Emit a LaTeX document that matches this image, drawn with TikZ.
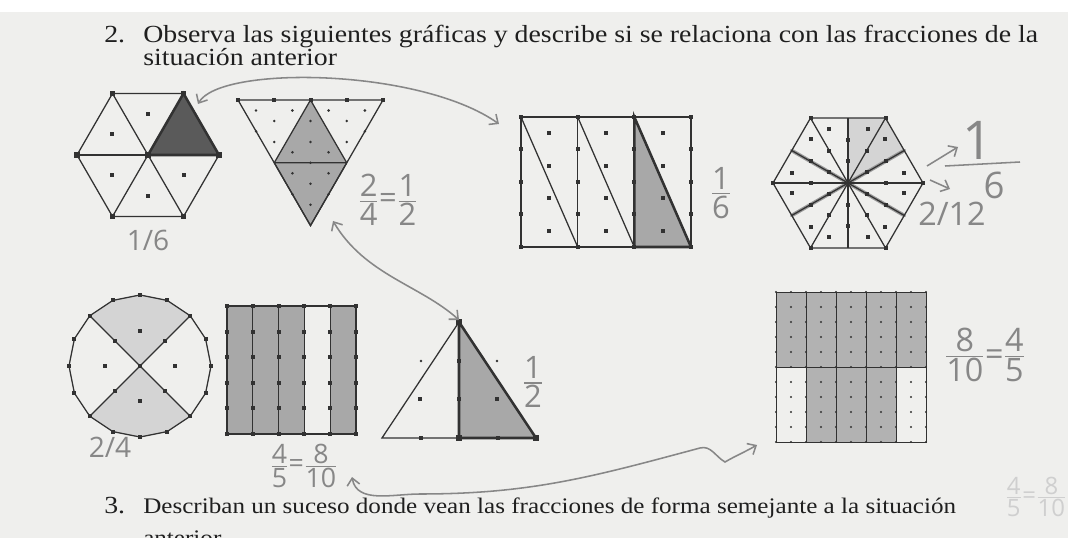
\documentclass[tikz,border=0pt]{standalone}
\usepackage{amsmath}
\usepackage{fontspec}
\setmainfont{Liberation Serif}
\newfontfamily\prfont[FakeStretch=1.13]{Liberation Serif}
\newfontfamily\hand{Open Sans}
\usetikzlibrary{arrows.meta,calc}
\definecolor{pPaper}{RGB}{239,239,237}
\definecolor{pInk}{RGB}{50,50,50}
\definecolor{pPencil}{RGB}{135,135,135}
\definecolor{pDark}{RGB}{90,90,90}
\definecolor{pMid}{RGB}{168,168,168}
\definecolor{pGrid}{RGB}{178,178,178}
\definecolor{pLight}{RGB}{212,212,212}
\newcommand{\mkSq}[1]{\fill[pInk] #1 ++(-2.8,-2.8) rectangle ++(5.6,5.6);}
\newcommand{\mkSm}[1]{\fill[pInk] #1 ++(-2,-2) rectangle ++(4,4);}
\newcommand{\mkDot}[1]{\fill[pInk] #1 circle (1pt);}
\newcommand{\hfr}[2]{\ensuremath{\genfrac{}{}{0.9pt}{1}{\mbox{#1}}{\mbox{#2}}}}

\begin{document}
\begin{tikzpicture}[
	x=0.025cm,y=-0.025cm,
	ln/.style={draw=pInk,line width=0.9pt},
	thk/.style={draw=pInk,line width=1.8pt},
	penln/.style={draw=pPencil,line width=1.1pt},
	penfat/.style={draw=pPencil!85,line width=2.6pt,line cap=round},
	penar/.style={penln,{Straight Barb[length=5pt,width=9pt]}-{Straight Barb[length=5pt,width=9pt]}},
	hw/.style={text=pPencil,inner sep=0pt,font=\hand\fontsize{20}{22}\selectfont},
	prnt/.style={text=black!88,inner sep=0pt,anchor=base west,font=\prfont\fontsize{17.5}{19}\selectfont}
	]
	\useasboundingbox (0,0) rectangle (1068,538);
	\fill[pPaper] (0,0) rectangle (1068,538);
	\fill[white] (0,0) rectangle (1068,12);

	% question 2
	\node[prnt] (q2n) at (104,43) {2.};
	\node[prnt] (q2a) at (143,43) {Observa las siguientes gráficas y describe si se relaciona con las fracciones de la};
	\node[prnt] (q2b) at (143,66) {situación anterior};

	% hexagon in sixths
	\coordinate (hA) at (148,155);
	\foreach \a in {0,60,...,300}{
		\coordinate (hA\a) at ($(hA)+(\a:71)$);
	}
	\fill[pDark] (hA)--(hA0)--(hA300)--cycle;
	\draw[ln] (hA0)--(hA60)--(hA120)--(hA180)--(hA240)--(hA300)--cycle;
	\foreach \a in {0,60,...,300} \draw[ln] (hA)--(hA\a);
	\draw[thk] (hA)--(hA0)--(hA300)--cycle;
	\foreach \a in {0,60,...,300} {\mkSq{(hA\a)}}
	\foreach \a in {30,90,150,210,270} {\mkSm{($(hA)+(\a:41)$)}}
	\mkSq{(hA)}
	\node[hw] (tA) at (148,240) {1/6};

	% triangle with diamond
	\coordinate (tL) at (238,100);
	\coordinate (tR) at (383,100);
	\coordinate (tB) at (310.5,225.6);
	\coordinate (dT) at (310.5,100);
	\coordinate (dL) at (274.25,162.8);
	\coordinate (dR) at (346.75,162.8);
	\fill[pMid] (dT)--(dL)--(tB)--(dR)--cycle;
	\draw[ln] (tL)--(tR)--(tB)--cycle;
	\draw[ln] (dT)--(dL)--(tB)--(dR)--cycle (dL)--(dR);
	\foreach \p in {(256,110.5),(292.4,110.5),(328.6,110.5),(364.9,110.5),
		(274.3,121),(310.5,121),(346.8,121),(274.3,142),(310.5,142),(346.8,142),
		(292.4,152.3),(328.6,152.3),(292.4,173.3),(328.6,173.3),(310.5,183.7),(310.5,204.7),
		(256.1,131.4),(364.9,131.4),(292.4,194.2),(328.6,194.2),(310.5,162.8)} {\mkDot{\p}}
	\foreach \x in {238,274.25,310.5,346.75,383} {\mkSm{(\x,100)}}
	\node[hw,font=\hand\fontsize{22}{24}\selectfont] (fA) at (388,200) {\hfr{2}{4}=\hfr{1}{2}};

	% rectangle in thirds, sixth shaded
	\fill[pMid] (634.3,117)--(634.3,247)--(691,247)--cycle;
	\draw[ln] (521,117) rectangle (691,247);
	\foreach \x in {577.7,634.3} \draw[ln] (\x,117)--(\x,247);
	\foreach \x/\y in {521/577.7,577.7/634.3,634.3/691} \draw[ln] (\x,117)--(\y,247);
	\draw[thk] (634.3,117)--(634.3,247)--(691,247)--cycle;
	\foreach \x in {521,577.7,634.3,691}{
		\foreach \y in {117,149.5,182,214.5,247} {\mkSm{(\x,\y)}}
	}
	\foreach \x in {549.3,606,662.7}{
		\foreach \y in {133.3,165.8,198.3,230.8} {\mkSm{(\x,\y)}}
	}
	\node[hw,font=\hand\fontsize{22}{24}\selectfont] (fB) at (721,193) {\hfr{1}{6}};

	% hexagon in twelfths
	\coordinate (hB) at (848,183);
	\foreach \a in {0,60,...,300} \coordinate (hB\a) at ($(hB)+(\a:75)$);
	\foreach \a in {30,90,...,330} \coordinate (mB\a) at ($(hB)+(\a:65)$);
	\fill[pLight] (hB)--(mB270)--(hB300)--(mB330)--cycle;
	\foreach \a in {30,150,210,330} \draw[penfat] (hB)--(mB\a);
	\draw[ln] (hB0)--(hB60)--(hB120)--(hB180)--(hB240)--(hB300)--cycle;
	\foreach \a in {0,60,...,300} \draw[ln] (hB)--(hB\a);
	\foreach \a in {30,90,...,330} \draw[ln] (hB)--(mB\a);
	\foreach \a in {0,60,...,300}{
		\mkSm{(hB\a)}
		\mkSm{($(hB)+(\a:37.5)$)}
		\mkSm{($(hB)+(\a+10:57)$)}
		\mkSm{($(hB)+(\a-10:57)$)}
	}
	\foreach \a in {30,90,...,330}{
		\mkSm{($(hB)+(\a:21.7)$)}
		\mkSm{($(hB)+(\a:43.3)$)}
	}
	\coordinate (aD1) at (927,166);
	\coordinate (aD2) at (958,147);
	\coordinate (aE1) at (930,180);
	\coordinate (aE2) at (950,189);
	\draw[penln,-{Straight Barb[length=5pt,width=9pt]}] (aD1)--(aD2);
	\draw[penln,-{Straight Barb[length=5pt,width=9pt]}] (aE1)--(aE2);
	\node[hw,font=\hand\fontsize{38}{40}\selectfont] (fC1) at (978,140) {1};
	\node[hw,font=\hand\fontsize{26}{28}\selectfont] (fC2) at (994,185) {6};
	\draw[penln] (945,166)--(1020,162);
	\node[hw,font=\hand\fontsize{23}{25}\selectfont] (tB) at (952,214) {2/12};

	% circle in quarters
	\coordinate (cC) at (140,366);
	\foreach \k in {0,...,15} \coordinate (cC\k) at ($(cC)+(\k*22.5:71)$);
	\fill[pLight] (cC)--(cC2)--(cC3)--(cC4)--(cC5)--(cC6)--cycle;
	\fill[pLight] (cC)--(cC10)--(cC11)--(cC12)--(cC13)--(cC14)--cycle;
	\draw[ln] (cC0) \foreach \k in {1,...,15}{--(cC\k)} --cycle;
	\draw[ln] (cC2)--(cC10) (cC6)--(cC14);
	\foreach \k in {0,...,15} {\mkSm{(cC\k)}}
	\foreach \a in {0,45,...,315} {\mkSm{($(cC)+(\a:35)$)}}
	\mkSm{(cC)}
	\node[hw] (tC) at (110,447) {2/4};

	% strips in fifths
	\foreach \x in {227,252.8,278.6,330.2} \fill[pMid] (\x,306) rectangle ++(25.8,128);
	\draw[ln] (227,306) rectangle (356,434);
	\foreach \x in {252.8,278.6,304.4,330.2} \draw[ln] (\x,306)--(\x,434);
	\foreach \x in {227,252.8,278.6,304.4,330.2,356}{
		\foreach \y in {306,331.6,357.2,382.8,408.4,434} {\mkSm{(\x,\y)}}
	}
	\node[hw,font=\hand\fontsize{19}{21}\selectfont] (fD) at (304,466) {\hfr{4}{5}=\hfr{8}{10}};

	% triangle in halves
	\coordinate (tD) at (459,322);
	\coordinate (tDl) at (382,438);
	\coordinate (tDm) at (459,438);
	\coordinate (tDr) at (536,438);
	\fill[pMid] (tD)--(tDm)--(tDr)--cycle;
	\draw[ln] (tD)--(tDl)--(tDr)--cycle;
	\draw[thk] (tD)--(tDm)--(tDr)--cycle;
	\foreach \p in {(tD),(tDm),(tDr)} {\mkSq{\p}}
	\foreach \p in {(420.5,438),(497.5,438),(459,360.7),(459,399.3),(420,399),(497,399)} {\mkSm{\p}}
	\foreach \p in {(421,361),(497,361)} {\mkDot{\p}}
	\node[hw,font=\hand\fontsize{22}{24}\selectfont] (fE) at (533,382) {\hfr{1}{2}};

	% grid in tenths
	\fill[pGrid] (776,292) rectangle (926,367);
	\fill[pGrid] (806,367) rectangle (896,442);
	\draw[ln,line width=0.7pt] (776,292) rectangle (926,442);
	\foreach \x in {806,836,866,896} \draw[ln,line width=0.7pt] (\x,292)--(\x,442);
	\draw[ln,line width=0.7pt] (776,367)--(926,367);
	\foreach \i in {0,...,10}{
		\foreach \j in {0,...,10} \fill[pInk] ({776+15*\i},{292+15*\j}) circle (0.8pt);
	}
	\node[hw,font=\hand\fontsize{23}{25}\selectfont] (fF) at (985,355) {\hfr{8}{10}=\hfr{4}{5}};

	% faint note at the edge
	\node[hw,text=pPencil!40,font=\hand\fontsize{17}{19}\selectfont] (fG) at (1036,497) {\hfr{4}{5}=\hfr{8}{10}};

	% pencil arrows
	\coordinate (aA1) at (198,104);
	\coordinate (aA2) at (499,124);
	\draw[penar] (aA1) .. controls (220,65) and (420,68) .. (aA2);
	\coordinate (aB1) at (333,221);
	\coordinate (aB2) at (459,320);
	\draw[penar] (aB1) .. controls (365,275) and (420,285) .. (aB2);
	\coordinate (aC1) at (352,477);
	\coordinate (aC2) at (757,445);
	\draw[penar] (aC1) to[out=-80,in=180] (420,494) to[out=0,in=195] (700,448)
		to[out=15,in=150] (725,462) to[out=30,in=210] (aC2);

	% question 3
	\node[prnt] (q3n) at (104,513) {3.};
	\node[prnt,font=\prfont\fontsize{15.8}{19}\selectfont] (q3a) at (143,513) {Describan un suceso donde vean las fracciones de forma semejante a la situación};
	\begin{scope}
		\clip (0,0) rectangle (1068,538);
		\node[prnt,font=\prfont\fontsize{15.8}{19}\selectfont] (q3b) at (143,545) {anterior};
	\end{scope}
\end{tikzpicture}
\end{document}
